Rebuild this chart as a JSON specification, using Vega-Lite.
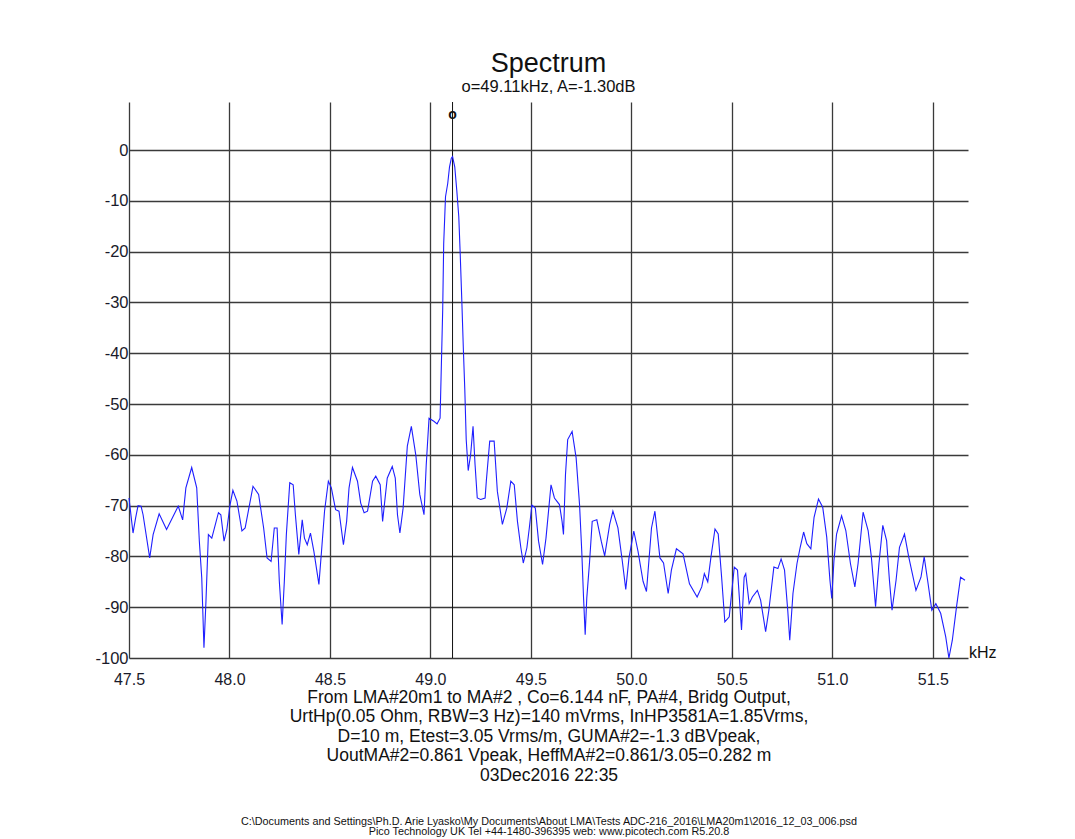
{
  "$schema": "https://vega.github.io/schema/vega-lite/v6.json",
  "autosize": "none",
  "width": 839,
  "height": 556,
  "padding": {"left": 129, "top": 102, "right": 107, "bottom": 181},
  "background": "white",
  "config": {
    "view": {"stroke": null},
    "font": "Liberation Sans",
    "axis": {"labelFont": "Liberation Sans", "titleFont": "Liberation Sans"}
  },
  "title": {
    "text": "Spectrum",
    "subtitle": "o=49.11kHz, A=-1.30dB",
    "font": "Liberation Sans",
    "subtitleFont": "Liberation Sans",
    "fontSize": 27,
    "fontWeight": "normal",
    "subtitleFontSize": 16.5,
    "color": "#111",
    "subtitleColor": "#111",
    "frame": "group",
    "anchor": "middle",
    "offset": 5,
    "subtitlePadding": 1
  },
  "data": {
    "values": [
      {"f":47.5,"a":-68.5},{"f":47.52,"a":-75.4},{"f":47.533,"a":-72.4},{"f":47.545,"a":-70},{"f":47.56,"a":-70.1},{"f":47.57,"a":-71.8},{"f":47.603,"a":-80.3},{"f":47.62,"a":-75.7},{"f":47.65,"a":-71.6},{"f":47.687,"a":-74.7},{"f":47.745,"a":-70.1},{"f":47.767,"a":-72.8},{"f":47.783,"a":-66.5},{"f":47.812,"a":-62.5},{"f":47.837,"a":-66.5},{"f":47.85,"a":-77},{"f":47.862,"a":-84.2},{"f":47.873,"a":-98},{"f":47.883,"a":-88.8},{"f":47.895,"a":-75.7},{"f":47.912,"a":-76.4},{"f":47.945,"a":-71.4},{"f":47.957,"a":-71.8},{"f":47.973,"a":-77},{"f":47.987,"a":-74.7},{"f":48.003,"a":-69.8},{"f":48.017,"a":-67},{"f":48.037,"a":-69.1},{"f":48.062,"a":-75},{"f":48.078,"a":-74.4},{"f":48.117,"a":-66.2},{"f":48.145,"a":-67.8},{"f":48.17,"a":-74.4},{"f":48.187,"a":-80.3},{"f":48.207,"a":-81},{"f":48.223,"a":-74.4},{"f":48.237,"a":-74.4},{"f":48.248,"a":-84.9},{"f":48.262,"a":-93.4},{"f":48.273,"a":-84.9},{"f":48.283,"a":-75.7},{"f":48.3,"a":-65.5},{"f":48.317,"a":-65.9},{"f":48.328,"a":-71.8},{"f":48.345,"a":-79.6},{"f":48.362,"a":-72.8},{"f":48.373,"a":-76.4},{"f":48.387,"a":-77.7},{"f":48.403,"a":-75.4},{"f":48.42,"a":-79},{"f":48.445,"a":-85.5},{"f":48.458,"a":-79},{"f":48.473,"a":-71.1},{"f":48.492,"a":-65.2},{"f":48.507,"a":-66.5},{"f":48.528,"a":-70.8},{"f":48.545,"a":-71.1},{"f":48.567,"a":-77.7},{"f":48.583,"a":-73.1},{"f":48.595,"a":-66.5},{"f":48.612,"a":-62.5},{"f":48.637,"a":-65.2},{"f":48.653,"a":-69.5},{"f":48.67,"a":-71.4},{"f":48.687,"a":-71.1},{"f":48.712,"a":-65.2},{"f":48.728,"a":-64.2},{"f":48.75,"a":-65.9},
      {"f":48.762,"a":-73.1},{"f":48.785,"a":-64.6},{"f":48.81,"a":-62.3},{"f":48.825,"a":-64.6},{"f":48.836,"a":-71.8},{"f":48.848,"a":-75.4},{"f":48.864,"a":-70.5},{"f":48.885,"a":-58.3},{"f":48.905,"a":-54.4},{"f":48.927,"a":-60},{"f":48.947,"a":-67.8},{"f":48.968,"a":-71.8},{"f":48.979,"a":-62},{"f":48.993,"a":-52.8},{"f":49.017,"a":-53.4},{"f":49.033,"a":-53.9},{"f":49.048,"a":-52.8},{"f":49.053,"a":-44.6},{"f":49.061,"a":-31.5},{"f":49.066,"a":-18.4},{"f":49.075,"a":-9.2},{"f":49.086,"a":-6.6},{"f":49.095,"a":-3.3},{"f":49.104,"a":-1.6},{"f":49.11,"a":-1.3},{"f":49.121,"a":-3.3},{"f":49.131,"a":-7.9},{"f":49.141,"a":-13.1},{"f":49.148,"a":-20.3},{"f":49.156,"a":-29.5},{"f":49.164,"a":-39.4},{"f":49.171,"a":-47.2},{"f":49.178,"a":-57},{"f":49.188,"a":-63.1},{"f":49.2,"a":-60},{"f":49.212,"a":-54.4},{"f":49.222,"a":-61.9},{"f":49.233,"a":-68.5},{"f":49.25,"a":-68.8},{"f":49.272,"a":-68.5},{"f":49.278,"a":-65.2},{"f":49.295,"a":-57.3},{"f":49.317,"a":-57.3},{"f":49.333,"a":-67.2},{"f":49.358,"a":-73.7},{"f":49.38,"a":-70.5},{"f":49.4,"a":-65.2},{"f":49.417,"a":-65.9},{"f":49.433,"a":-73.1},{"f":49.45,"a":-78.3},{"f":49.462,"a":-81.3},{"f":49.48,"a":-78.3},{"f":49.492,"a":-74.4},{"f":49.505,"a":-69.9},{"f":49.522,"a":-70.5},{"f":49.538,"a":-77},{"f":49.558,"a":-81.6},{"f":49.575,"a":-76.4},{"f":49.6,"a":-65.9},{"f":49.617,"a":-68.5},{"f":49.642,"a":-69.8},{"f":49.655,"a":-73.1},{"f":49.662,"a":-75.7},{"f":49.672,"a":-63.9},{"f":49.683,"a":-57},{"f":49.705,"a":-55.4},{"f":49.725,"a":-60.6},{"f":49.742,"a":-69.8},{"f":49.753,"a":-79},{"f":49.762,"a":-88.2},{"f":49.77,"a":-95.4},{"f":49.778,"a":-88.2},{"f":49.792,"a":-81},{"f":49.805,"a":-73.1},{"f":49.828,"a":-72.8},{"f":49.85,"a":-77},{"f":49.867,"a":-79.9},{"f":49.892,"a":-73.7},{"f":49.908,"a":-71.1},{"f":49.933,"a":-74.4},{"f":49.955,"a":-81},{"f":49.972,"a":-86.5},{"f":49.988,"a":-80.3},{"f":50.012,"a":-75},{"f":50.033,"a":-79},{"f":50.058,"a":-84.9},{"f":50.075,"a":-86.9},{"f":50.1,"a":-74.4},{"f":50.117,"a":-71.1},{"f":50.142,"a":-80.3},
      {"f":50.16,"a":-81.3},{"f":50.183,"a":-87.3},{"f":50.199,"a":-82.7},{"f":50.224,"a":-78.5},{"f":50.257,"a":-79.5},{"f":50.289,"a":-85.4},{"f":50.327,"a":-88},{"f":50.35,"a":-86},{"f":50.363,"a":-83.4},{"f":50.38,"a":-85},{"f":50.396,"a":-80.1},{"f":50.416,"a":-74.6},{"f":50.432,"a":-75.6},{"f":50.449,"a":-84.1},{"f":50.465,"a":-92.9},{"f":50.487,"a":-91.9},{"f":50.5,"a":-86.7},{"f":50.512,"a":-82.1},{"f":50.528,"a":-82.7},{"f":50.548,"a":-94.5},{"f":50.561,"a":-84.1},{"f":50.569,"a":-83.4},{"f":50.586,"a":-89.3},{"f":50.602,"a":-88},{"f":50.627,"a":-86.7},{"f":50.643,"a":-88.6},{"f":50.668,"a":-94.8},{"f":50.684,"a":-90.6},{"f":50.709,"a":-82.1},{"f":50.729,"a":-82.4},{"f":50.745,"a":-80.5},{"f":50.762,"a":-82.7},{"f":50.778,"a":-90.6},{"f":50.788,"a":-96.5},{"f":50.804,"a":-87.3},{"f":50.824,"a":-81.4},{"f":50.84,"a":-78.2},{"f":50.857,"a":-75.2},{"f":50.873,"a":-77.5},{"f":50.893,"a":-78.5},{"f":50.909,"a":-72.3},{"f":50.931,"a":-68.7},{"f":50.952,"a":-70.3},{"f":50.972,"a":-76.2},{"f":50.988,"a":-84.7},{"f":50.997,"a":-88.3},{"f":51.008,"a":-80.8},{"f":51.021,"a":-75.6},{"f":51.046,"a":-72},{"f":51.067,"a":-74.9},{"f":51.09,"a":-81.4},{"f":51.112,"a":-86},{"f":51.128,"a":-81.4},{"f":51.153,"a":-71.3},{"f":51.178,"a":-74.9},{"f":51.194,"a":-80.1},{"f":51.215,"a":-89.9},{"f":51.232,"a":-81.4},{"f":51.251,"a":-73.9},{"f":51.27,"a":-76.9},{"f":51.284,"a":-84.7},{"f":51.297,"a":-90.6},{"f":51.317,"a":-84.7},{"f":51.334,"a":-78.2},{"f":51.359,"a":-75.6},{"f":51.38,"a":-80.1},{"f":51.416,"a":-86.7},{"f":51.441,"a":-84.1},{"f":51.457,"a":-80.1},{"f":51.474,"a":-84.7},{"f":51.495,"a":-90.6},{"f":51.515,"a":-89.3},{"f":51.539,"a":-91.2},{"f":51.564,"a":-95.8},{"f":51.58,"a":-100},{"f":51.597,"a":-96.5},{"f":51.618,"a":-89.9},{"f":51.638,"a":-84.1},{"f":51.66,"a":-84.7}
    ]
  },
  "encoding": {
    "x": {
      "field": "f",
      "type": "quantitative",
      "scale": {"domain": [47.5, 51.675], "nice": false, "zero": false},
      "axis": {
        "values": [47.5, 48.0, 48.5, 49.0, 49.5, 50.0, 50.5, 51.0, 51.5],
        "format": ".1f",
        "grid": true,
        "gridColor": "#3a3a3a",
        "gridWidth": 1.3,
        "ticks": false,
        "domain": false,
        "labelFontSize": 16,
        "labelColor": "#1a1a2a",
        "labelPadding": 13,
        "labelFlush": false,
        "title": [
          "From LMA#20m1 to MA#2 , Co=6.144 nF, PA#4, Bridg  Output,",
          "UrtHp(0.05 Ohm, RBW=3 Hz)=140 mVrms, InHP3581A=1.85Vrms,",
          "D=10 m, Etest=3.05 Vrms/m, GUMA#2=-1.3 dBVpeak,",
          "UoutMA#2=0.861 Vpeak, HeffMA#2=0.861/3.05=0.282 m",
          "03Dec2016  22:35"
        ],
        "titleFontSize": 17.5,
        "titleFontWeight": "normal",
        "titleColor": "#111",
        "titleLineHeight": 19.5,
        "titlePadding": 1
      }
    },
    "y": {
      "field": "a",
      "type": "quantitative",
      "scale": {"domain": [-100, 9.45], "nice": false, "zero": false},
      "axis": {
        "values": [-100, -90, -80, -70, -60, -50, -40, -30, -20, -10, 0],
        "labelExpr": "'' + datum.value",
        "grid": true,
        "gridColor": "#3a3a3a",
        "gridWidth": 1.3,
        "ticks": false,
        "domain": false,
        "labelFontSize": 16.5,
        "labelColor": "#1a1a2a",
        "labelPadding": 1,
        "title": [
          "C:\\Documents and Settings\\Ph.D. Arie Lyasko\\My Documents\\About LMA\\Tests ADC-216_2016\\LMA20m1\\2016_12_03_006.psd",
          "Pico Technology UK  Tel +44-1480-396395  web: www.picotech.com  R5.20.8"
        ],
        "titleAngle": 0,
        "titleAlign": "center",
        "titleBaseline": "middle",
        "titleX": 419.5,
        "titleY": 719,
        "titleFontSize": 10.8,
        "titleFontWeight": "normal",
        "titleColor": "#111",
        "titleLineHeight": 10
      }
    }
  },
  "layer": [
    {
      "transform": [{"filter": "datum.f == 49.11"}],
      "mark": {"type": "rule", "color": "#111", "strokeWidth": 1},
      "encoding": {"y": null}
    },
    {
      "mark": {"type": "line", "color": "#1f1fff", "strokeWidth": 1.1, "interpolate": "linear"}
    },
    {
      "transform": [{"filter": "datum.f == 49.11"}],
      "mark": {"type": "text", "text": "o", "fontSize": 14, "fontWeight": "bold", "color": "#111", "baseline": "middle"},
      "encoding": {"y": {"datum": 6.9}}
    },
    {
      "transform": [{"filter": "datum.f == 51.66"}],
      "mark": {"type": "text", "text": "kHz", "fontSize": 16, "color": "#111", "align": "left", "baseline": "middle", "dx": 1, "dy": -5},
      "encoding": {"x": {"datum": 51.675}, "y": {"datum": -100}}
    }
  ]
}
